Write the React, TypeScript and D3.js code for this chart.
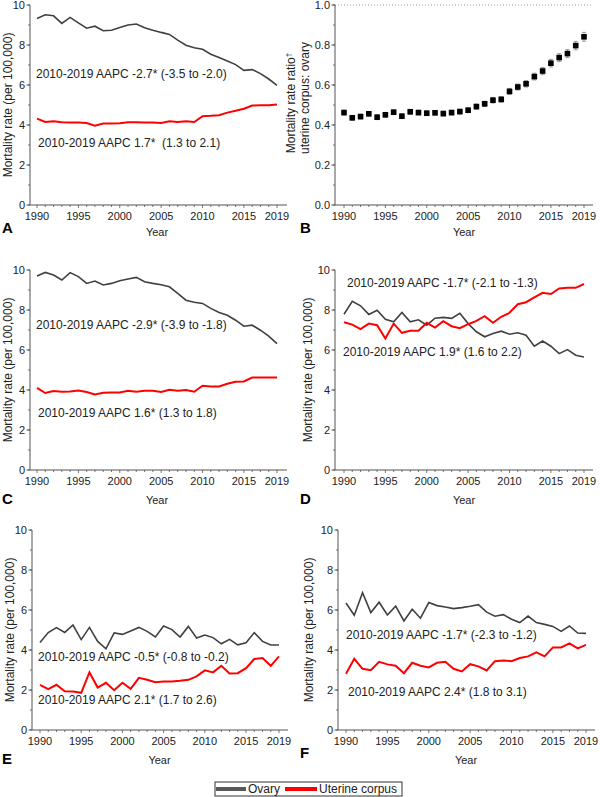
import React from "react";
import * as d3 from "d3";

const years = d3.range(1990, 2020);

const ovaryA = [9.33,9.51,9.46,9.08,9.38,9.11,8.84,8.94,8.71,8.74,8.88,9.0,9.05,8.86,8.74,8.63,8.53,8.24,7.99,7.86,7.79,7.54,7.37,7.2,7.02,6.73,6.77,6.57,6.3,5.98];
const uterineA = [4.32,4.15,4.19,4.14,4.12,4.12,4.1,3.97,4.07,4.07,4.09,4.14,4.14,4.12,4.12,4.1,4.19,4.15,4.19,4.15,4.44,4.46,4.49,4.62,4.71,4.81,4.97,4.99,4.99,5.03];

const ratioB = [0.462,0.436,0.442,0.456,0.439,0.451,0.464,0.444,0.466,0.462,0.459,0.461,0.457,0.462,0.467,0.474,0.492,0.506,0.524,0.528,0.568,0.59,0.606,0.642,0.67,0.709,0.737,0.757,0.797,0.841];
const ratioErrB = [0.012,0.012,0.012,0.012,0.012,0.012,0.012,0.012,0.012,0.012,0.012,0.012,0.012,0.012,0.012,0.012,0.013,0.013,0.014,0.014,0.015,0.015,0.016,0.017,0.018,0.019,0.02,0.02,0.021,0.022];

const ovaryC = [9.7,9.88,9.75,9.5,9.87,9.67,9.33,9.45,9.25,9.33,9.46,9.55,9.63,9.41,9.33,9.26,9.16,8.83,8.49,8.39,8.33,8.08,7.88,7.74,7.49,7.19,7.24,6.99,6.69,6.32];
const uterineC = [4.11,3.85,3.95,3.91,3.93,3.98,3.9,3.78,3.86,3.88,3.88,3.96,3.91,3.96,3.96,3.9,4.01,3.96,4.0,3.91,4.21,4.18,4.18,4.31,4.41,4.43,4.62,4.62,4.63,4.62];

const ovaryD = [7.79,8.44,8.21,7.78,7.99,7.54,7.41,7.88,7.41,7.51,7.24,7.59,7.63,7.58,7.84,7.32,6.91,6.66,6.82,6.94,6.79,6.86,6.74,6.19,6.45,6.19,5.82,6.02,5.74,5.65];
const uterineD = [7.39,7.27,7.04,7.32,7.24,6.57,7.32,6.86,6.96,6.96,7.36,7.12,7.44,7.19,7.09,7.29,7.46,7.69,7.36,7.66,7.86,8.29,8.39,8.63,8.86,8.8,9.08,9.11,9.11,9.3];

const ovaryE = [4.38,4.87,5.12,4.88,5.25,4.52,5.13,4.43,4.06,4.85,4.78,4.95,5.13,4.93,4.65,5.2,5.02,4.65,5.18,4.6,4.75,4.62,4.31,4.53,4.26,4.36,4.87,4.43,4.25,4.25];
const uterineE = [2.26,2.04,2.26,1.94,1.92,1.86,2.88,2.12,2.36,1.99,2.36,2.06,2.61,2.51,2.39,2.42,2.42,2.46,2.51,2.68,2.98,2.88,3.21,2.83,2.84,3.09,3.55,3.6,3.21,3.68];

const ovaryF = [6.35,5.74,6.86,5.87,6.39,5.75,6.19,5.45,6.04,5.59,6.37,6.22,6.15,6.07,6.12,6.19,6.27,5.89,5.69,5.77,5.54,5.37,5.7,5.37,5.28,5.18,4.93,5.2,4.85,4.83];
const uterineF = [2.81,3.56,3.06,2.99,3.41,3.28,3.21,2.84,3.36,3.21,3.13,3.36,3.41,3.06,2.93,3.29,3.18,2.98,3.44,3.48,3.44,3.6,3.68,3.88,3.68,4.13,4.13,4.33,4.08,4.26];

const xTickLabels = [1990, 1995, 2000, 2005, 2010, 2015, 2019];
const rateTicks = [0, 2, 4, 6, 8, 10];
const ratioTicks = [0, 0.2, 0.4, 0.6, 0.8, 1.0];

const annotations = {
  A: ["2010-2019 AAPC -2.7* (-3.5 to -2.0)", "2010-2019 AAPC 1.7*  (1.3 to 2.1)"],
  C: ["2010-2019 AAPC -2.9* (-3.9 to -1.8)", "2010-2019 AAPC 1.6* (1.3 to 1.8)"],
  D: ["2010-2019 AAPC -1.7* (-2.1 to -1.3)", "2010-2019 AAPC 1.9* (1.6 to 2.2)"],
  E: ["2010-2019 AAPC -0.5* (-0.8 to -0.2)", "2010-2019 AAPC 2.1* (1.7 to 2.6)"],
  F: ["2010-2019 AAPC -1.7* (-2.3 to -1.2)", "2010-2019 AAPC 2.4* (1.8 to 3.1)"],
};

const legendLabels = ["Ovary", "Uterine corpus"];

const FONT = "'Liberation Sans', Arial, sans-serif";
const OVARY = "#404040";
const RED = "#ff0000";
const AXIS = "#555";
const TXT = "#222";

type Geo = { ax: number; y0: number; y1: number; x0: number; x1: number; xEnd: number };

function Axes({ g, y, ticks, fmt, minorStep }: { g: Geo; y: d3.ScaleLinear<number, number>; ticks: number[]; fmt: (v: number) => string; minorStep: number }) {
  const x = d3.scaleLinear().domain([1990, 2019]).range([g.x0, g.x1]);
  const dom = y.domain();
  const minors = d3.range(dom[0], dom[1] + 1e-9, minorStep);
  return (
    <g>
      <line x1={g.ax} x2={g.ax} y1={g.y1} y2={g.y0} stroke={AXIS} strokeWidth={1} />
      <line x1={g.ax} x2={g.xEnd} y1={g.y0} y2={g.y0} stroke={AXIS} strokeWidth={1} />
      {minors.map((v, i) => (
        <line key={"ym" + i} x1={g.ax - 2} x2={g.ax} y1={y(v)} y2={y(v)} stroke={AXIS} strokeWidth={0.8} />
      ))}
      {ticks.map((v) => (
        <g key={"y" + v}>
          <line x1={g.ax - 3.5} x2={g.ax} y1={y(v)} y2={y(v)} stroke={AXIS} strokeWidth={1} />
          <text x={g.ax - 5} y={y(v)} dy="0.35em" textAnchor="end" fontSize={11} fill={TXT} fontFamily={FONT}>{fmt(v)}</text>
        </g>
      ))}
      {years.map((yr) => (
        <line key={"xm" + yr} x1={x(yr)} x2={x(yr)} y1={g.y0} y2={g.y0 + (xTickLabels.includes(yr) ? 3 : 2)} stroke={AXIS} strokeWidth={0.8} />
      ))}
      {xTickLabels.map((yr) => (
        <text key={"xl" + yr} x={x(yr)} y={g.y0 + 11} dy="0.35em" textAnchor="middle" fontSize={11} fill={TXT} fontFamily={FONT}>{yr}</text>
      ))}
    </g>
  );
}

function RatePanel({ g, ovary, uterine, ann, annPos, letter, letterY, yearY, titleX }: any) {
  const x = d3.scaleLinear().domain([1990, 2019]).range([g.x0, g.x1]);
  const y = d3.scaleLinear().domain([0, 10]).range([g.y0, g.y1]);
  const line = d3.line<number>().x((_, i) => x(years[i])).y((v) => y(v));
  const letterX = g.ax < 100 ? 2 : 300;
  return (
    <g>
      <Axes g={g} y={y} ticks={rateTicks} fmt={(v) => String(v)} minorStep={1} />
      <path d={line(ovary) || ""} fill="none" stroke={OVARY} strokeWidth={1.6} />
      <path d={line(uterine) || ""} fill="none" stroke={RED} strokeWidth={2} />
      <text x={annPos[0][0]} y={annPos[0][1]} fontSize={12} fill={TXT} fontFamily={FONT} style={{ whiteSpace: "pre" }}>{ann[0]}</text>
      <text x={annPos[1][0]} y={annPos[1][1]} fontSize={12} fill={TXT} fontFamily={FONT} style={{ whiteSpace: "pre" }}>{ann[1]}</text>
      <text transform={`translate(${titleX},${(g.y0 + g.y1) / 2}) rotate(-90)`} textAnchor="middle" dy="0.35em" fontSize={12} fill={TXT} fontFamily={FONT}>Mortality rate (per 100,000)</text>
      <text x={letterX} y={letterY} dy="0.35em" fontSize={15} fontWeight="bold" fill="#000" fontFamily={FONT}>{letter}</text>
      <text x={(g.x0 + g.x1) / 2} y={yearY} dy="0.35em" textAnchor="middle" fontSize={11} fill={TXT} fontFamily={FONT}>Year</text>
    </g>
  );
}

function RatioPanel({ g }: { g: Geo }) {
  const x = d3.scaleLinear().domain([1990, 2019]).range([g.x0, g.x1]);
  const y = d3.scaleLinear().domain([0, 1]).range([g.y0, g.y1]);
  return (
    <g>
      <line x1={g.ax} x2={g.xEnd} y1={y(1)} y2={y(1)} stroke="#999" strokeWidth={1} strokeDasharray="1,2" />
      <Axes g={g} y={y} ticks={ratioTicks} fmt={(v) => v.toFixed(1)} minorStep={0.1} />
      {ratioB.map((v, i) => {
        const cx = x(years[i]);
        const e = ratioErrB[i];
        return (
          <g key={i}>
            <line x1={cx} x2={cx} y1={y(v - e)} y2={y(v + e)} stroke="#999" strokeWidth={1} />
            <line x1={cx - 2} x2={cx + 2} y1={y(v - e)} y2={y(v - e)} stroke="#999" strokeWidth={1} />
            <line x1={cx - 2} x2={cx + 2} y1={y(v + e)} y2={y(v + e)} stroke="#999" strokeWidth={1} />
            <rect x={cx - 2.8} y={y(v) - 2.8} width={5.6} height={5.6} fill="#000" />
          </g>
        );
      })}
      <text transform={`translate(291,103) rotate(-90)`} textAnchor="middle" dy="0.35em" fontSize={12} fill={TXT} fontFamily={FONT}>
        Mortality rate ratio<tspan dy="-4" fontSize={8}>†</tspan>
      </text>
      <text transform={`translate(305,98) rotate(-90)`} textAnchor="middle" dy="0.35em" fontSize={12} fill={TXT} fontFamily={FONT}>uterine corpus: ovary</text>
      <text x={300} y={228} dy="0.35em" fontSize={15} fontWeight="bold" fill="#000" fontFamily={FONT}>B</text>
      <text x={(g.x0 + g.x1) / 2} y={232} dy="0.35em" textAnchor="middle" fontSize={11} fill={TXT} fontFamily={FONT}>Year</text>
    </g>
  );
}

export default function App() {
  const gA: Geo = { ax: 30, y0: 205, y1: 5, x0: 37, x1: 277, xEnd: 287 };
  const gB: Geo = { ax: 335, y0: 205, y1: 5, x0: 344, x1: 584, xEnd: 593 };
  const gC: Geo = { ax: 30, y0: 470, y1: 270, x0: 37, x1: 277, xEnd: 287 };
  const gD: Geo = { ax: 335, y0: 470, y1: 270, x0: 344, x1: 584, xEnd: 593 };
  const gE: Geo = { ax: 32, y0: 730, y1: 530, x0: 40, x1: 279, xEnd: 288 };
  const gF: Geo = { ax: 338, y0: 730, y1: 530, x0: 346, x1: 586, xEnd: 595 };
  return (
    <svg width={600} height={797} style={{ position: "absolute", left: 0, top: 0, background: "#fff" }}>
      <rect width={600} height={797} fill="#fff" />
      <RatePanel g={gA} ovary={ovaryA} uterine={uterineA} ann={annotations.A} annPos={[[36, 78], [38, 147]]} letter="A" letterY={228} yearY={232} titleX={8} />
      <RatioPanel g={gB} />
      <RatePanel g={gC} ovary={ovaryC} uterine={uterineC} ann={annotations.C} annPos={[[36, 329], [38, 417]]} letter="C" letterY={499} yearY={500} titleX={8} />
      <RatePanel g={gD} ovary={ovaryD} uterine={uterineD} ann={annotations.D} annPos={[[347, 287], [343, 356]]} letter="D" letterY={499} yearY={500} titleX={308} />
      <RatePanel g={gE} ovary={ovaryE} uterine={uterineE} ann={annotations.E} annPos={[[38, 661], [38, 704]]} letter="E" letterY={759} yearY={760} titleX={10} />
      <RatePanel g={gF} ovary={ovaryF} uterine={uterineF} ann={annotations.F} annPos={[[346, 639], [348, 696]]} letter="F" letterY={753} yearY={760} titleX={309} />
      <g>
        <rect x={215} y={782} width={187} height={14} fill="#fff" stroke="#333" strokeWidth={1} />
        <line x1={216} x2={246} y1={789} y2={789} stroke="#595959" strokeWidth={4} />
        <text x={248} y={789} dy="0.35em" fontSize={12} fill={TXT} fontFamily={FONT}>{legendLabels[0]}</text>
        <line x1={285} x2={317} y1={789} y2={789} stroke={RED} strokeWidth={4} />
        <text x={319} y={789} dy="0.35em" fontSize={12} fill={TXT} fontFamily={FONT}>{legendLabels[1]}</text>
      </g>
    </svg>
  );
}
